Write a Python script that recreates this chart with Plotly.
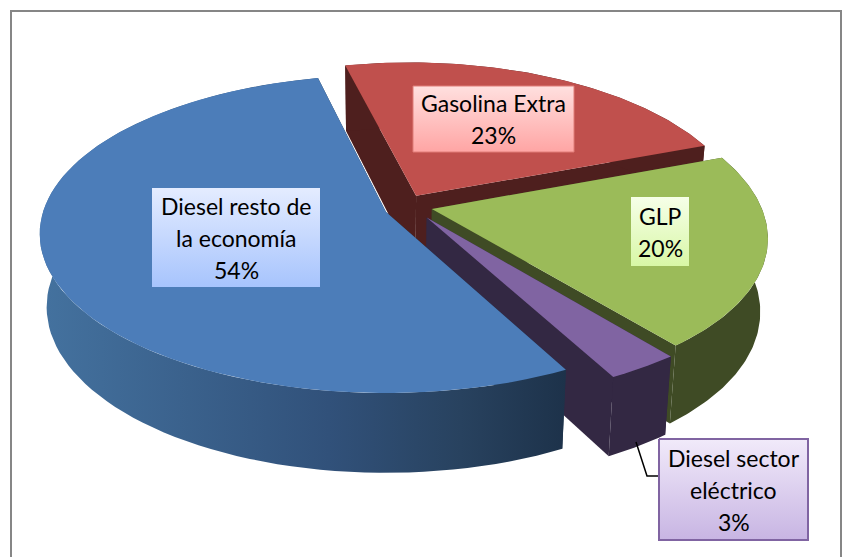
import numpy as np
import plotly.graph_objects as go

# ---- data ----
categories = ["Gasolina Extra", "GLP", "Diesel sector eléctrico", "Diesel resto de la economía"]
shares = [23, 20, 3, 54]
label_lines = [["Gasolina Extra"], ["GLP"], ["Diesel sector", "eléctrico"], ["Diesel resto de", "la economía"]]

# ---- styles ----
top_colors = ["#C0504D", "#9BBB59", "#8064A2", "#4C7DB9"]
wall_colors = ["#4E1F1E", "#3F4B25", "#332843", "#3F6A9E"]
explode_x = [0.089, 0.134, 0.118, 0.0]
explode_y = [0.105, 0.02, -0.035, 0.0]
scale_x = [0.96, 0.965, 1.0, 1.0]
shear_x = [0.023, 0.07, 0.0, 0.0]
box_rects = [(413, 574, 86, 152), (631, 689, 197, 266), (659, 808, 439, 540), (152, 320, 188, 287)]
box_grads = [("#FFE0DF", "#FFA5A4"), ("#F6FFE8", "#D8F7A6"), ("#F1EAFA", "#C8B5E3"), ("#E4ECFF", "#A7C4FD")]
box_lines = ["#E07C79", None, "#8064A2", None]

START_DEG = -13.0
CX, CY, A, B, K, DEPTH, CONVERGE = 386.0, 212.0, 343.0, 156.0, 0.138, 72.0, 0.98
LINE_STEP = 32.0


def project(i, px, py, lower=False):
    w = 1 + K * py
    X = A * px / w
    Y = -B * py / w
    w0 = 1 + K * explode_y[i]
    X0 = A * explode_x[i] / w0
    Y0 = -B * explode_y[i] / w0
    X = X0 + scale_x[i] * (X - X0) + shear_x[i] * (Y - Y0)
    if lower:
        return CX + CONVERGE * X, CY + CONVERGE * Y + DEPTH / w
    return CX + X, CY + Y


def poly(xs, ys, color=None, grad=None, line=None, lw=0):
    kw = dict(x=list(xs), y=list(ys), mode="lines", fill="toself", hoverinfo="skip", showlegend=False)
    kw["line"] = dict(color=line or "rgba(0,0,0,0)", width=lw)
    if grad is not None:
        kw["fillgradient"] = grad
    else:
        kw["fillcolor"] = color
    return go.Scatter(**kw)


fig = go.Figure()
angle = START_DEG
total = sum(shares)
for i, share in enumerate(shares):
    end = angle + 360.0 * share / total
    th = np.radians(np.linspace(angle, end, 90))
    px = explode_x[i] + np.sin(th)
    py = explode_y[i] + np.cos(th)
    ax, ay = np.array([explode_x[i]]), np.array([explode_y[i]])
    tx, ty = project(i, px, py)
    bx, by = project(i, px, py, True)
    atx, aty = project(i, ax, ay)
    abx, aby = project(i, ax, ay, True)

    # two cut faces
    for j in (0, -1):
        fig.add_trace(poly([atx[0], tx[j], bx[j], abx[0]], [aty[0], ty[j], by[j], aby[0]],
                           color=wall_colors[i] if i != 3 else "#1E3349"))
    # outer wall
    wx = np.r_[tx, bx[::-1]]
    wy = np.r_[ty, by[::-1]]
    if i == 3:
        grad = dict(type="horizontal",
                    colorscale=[[0, "#44729F"], [0.55, "#31517A"], [0.8, "#28425F"], [1, "#1D324A"]])
        fig.add_trace(poly(wx, wy, grad=grad))
    else:
        fig.add_trace(poly(wx, wy, color=wall_colors[i]))
    # top face
    fig.add_trace(poly(np.r_[atx, tx], np.r_[aty, ty], color=top_colors[i]))
    angle = end

# leader line for the small slice
fig.add_trace(go.Scatter(x=[636, 647, 659], y=[442, 476, 476], mode="lines", hoverinfo="skip", showlegend=False,
                         line=dict(color="#000000", width=1.5)))

annotations = []
for i, share in enumerate(shares):
    x0, x1, y0, y1 = box_rects[i]
    grad = dict(type="vertical", colorscale=[[0, box_grads[i][1]], [1, box_grads[i][0]]])
    fig.add_trace(poly([x0, x1, x1, x0, x0], [y0, y0, y1, y1, y0], grad=grad, line=box_lines[i], lw=2 if i == 2 else 1))
    lines = label_lines[i] + [f"{share}%"]
    mid = (y0 + y1) / 2
    for n, text in enumerate(lines):
        annotations.append(dict(x=(x0 + x1) / 2, y=mid + (n - (len(lines) - 1) / 2) * LINE_STEP,
                                xref="x", yref="y", text=text, showarrow=False,
                                font=dict(family="Lato", size=23, color="#000000")))

fig.update_layout(
    width=852, height=557, margin=dict(l=0, r=0, t=0, b=0), autosize=False,
    paper_bgcolor="#FFFFFF", plot_bgcolor="#FFFFFF", showlegend=False,
    xaxis=dict(range=[0, 852], visible=False, fixedrange=True),
    yaxis=dict(range=[557, 0], visible=False, fixedrange=True),
    annotations=annotations,
    shapes=[dict(type="rect", xref="x", yref="y", x0=11, x1=841, y0=11, y1=600,
                 line=dict(color="#868686", width=2), layer="below")],
)
fig.write_html("out.html", config={"displayModeBar": False},
               post_script="document.body.style.margin='0';document.documentElement.style.overflow='hidden';")
